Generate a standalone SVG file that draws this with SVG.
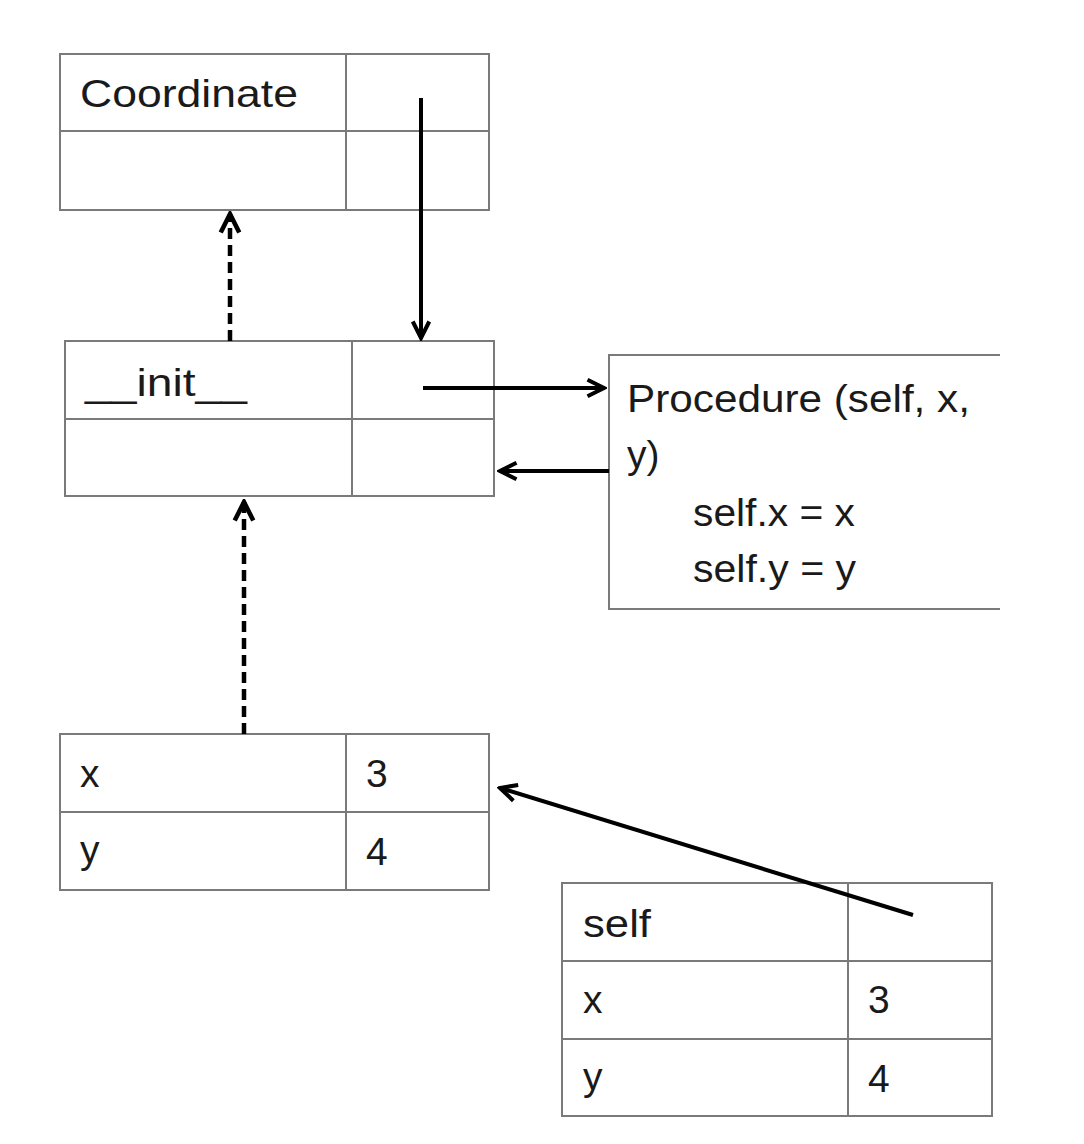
<svg xmlns="http://www.w3.org/2000/svg" width="1084" height="1144" viewBox="0 0 1084 1144">
<style>
.box{fill:#fff;stroke:#7a7a7a;stroke-width:2}
.div{stroke:#7a7a7a;stroke-width:2;fill:none}
.t{font-family:"Liberation Sans","Open Sans",sans-serif;font-size:39px;fill:#1a1a1a}
.a{stroke:#000;stroke-width:4;fill:none}
.d{stroke:#000;stroke-width:4.5;fill:none;stroke-dasharray:11 6}
</style>
<defs>
<marker id="ah" viewBox="0 0 12 12" refX="10.5" refY="6" markerWidth="5.5" markerHeight="5.5" orient="auto" markerUnits="strokeWidth">
<path d="M1.5,1.5 L10.5,6 L1.5,10.5" fill="none" stroke="#000" stroke-width="2.2" stroke-linejoin="miter"/>
</marker>
</defs>
<rect width="1084" height="1144" fill="#fff"/>
<g id="coordinate">
<rect class="box" x="60" y="54" width="429" height="156"/>
<path class="div" d="M346,54 V210 M60,131 H489"/>
<text class="t" x="80" y="107" textLength="218" lengthAdjust="spacingAndGlyphs">Coordinate</text>
</g>
<g id="init">
<rect class="box" x="65" y="341" width="429" height="155"/>
<path class="div" d="M352,341 V496 M65,419 H494"/>
<text class="t" x="85" y="396" textLength="162" lengthAdjust="spacingAndGlyphs">__init__</text>
</g>
<g id="procedure">
<path class="div" d="M1000,355 H609 V609 H1000"/>
<text class="t" x="627" y="412" textLength="343" lengthAdjust="spacingAndGlyphs">Procedure (self, x,</text>
<text class="t" x="627" y="468">y)</text>
<text class="t" x="693" y="526" textLength="162" lengthAdjust="spacingAndGlyphs">self.x = x</text>
<text class="t" x="693" y="582" textLength="163" lengthAdjust="spacingAndGlyphs">self.y = y</text>
</g>
<g id="instance">
<rect class="box" x="60" y="734" width="429" height="156"/>
<path class="div" d="M346,734 V890 M60,812 H489"/>
<text class="t" x="80" y="787">x</text>
<text class="t" x="366" y="787">3</text>
<text class="t" x="80" y="863">y</text>
<text class="t" x="366" y="865">4</text>
</g>
<g id="frame">
<rect class="box" x="562" y="883" width="430" height="233"/>
<path class="div" d="M848,883 V1116 M562,961 H992 M562,1039 H992"/>
<text class="t" x="583" y="937" textLength="68" lengthAdjust="spacingAndGlyphs">self</text>
<text class="t" x="583" y="1013">x</text>
<text class="t" x="868" y="1013">3</text>
<text class="t" x="583" y="1090">y</text>
<text class="t" x="868" y="1092">4</text>
</g>
<g id="connectors">
<line class="d" x1="230" y1="341" x2="230" y2="214" marker-end="url(#ah)"/>
<line class="a" x1="421" y1="98" x2="421" y2="338" marker-end="url(#ah)"/>
<line class="a" x1="423" y1="388" x2="604" y2="388" marker-end="url(#ah)"/>
<line class="a" x1="609" y1="471" x2="500" y2="471" marker-end="url(#ah)"/>
<line class="d" x1="244" y1="734" x2="244" y2="502" marker-end="url(#ah)"/>
<line class="a" x1="913" y1="915" x2="500" y2="788" marker-end="url(#ah)"/>
</g>
</svg>
